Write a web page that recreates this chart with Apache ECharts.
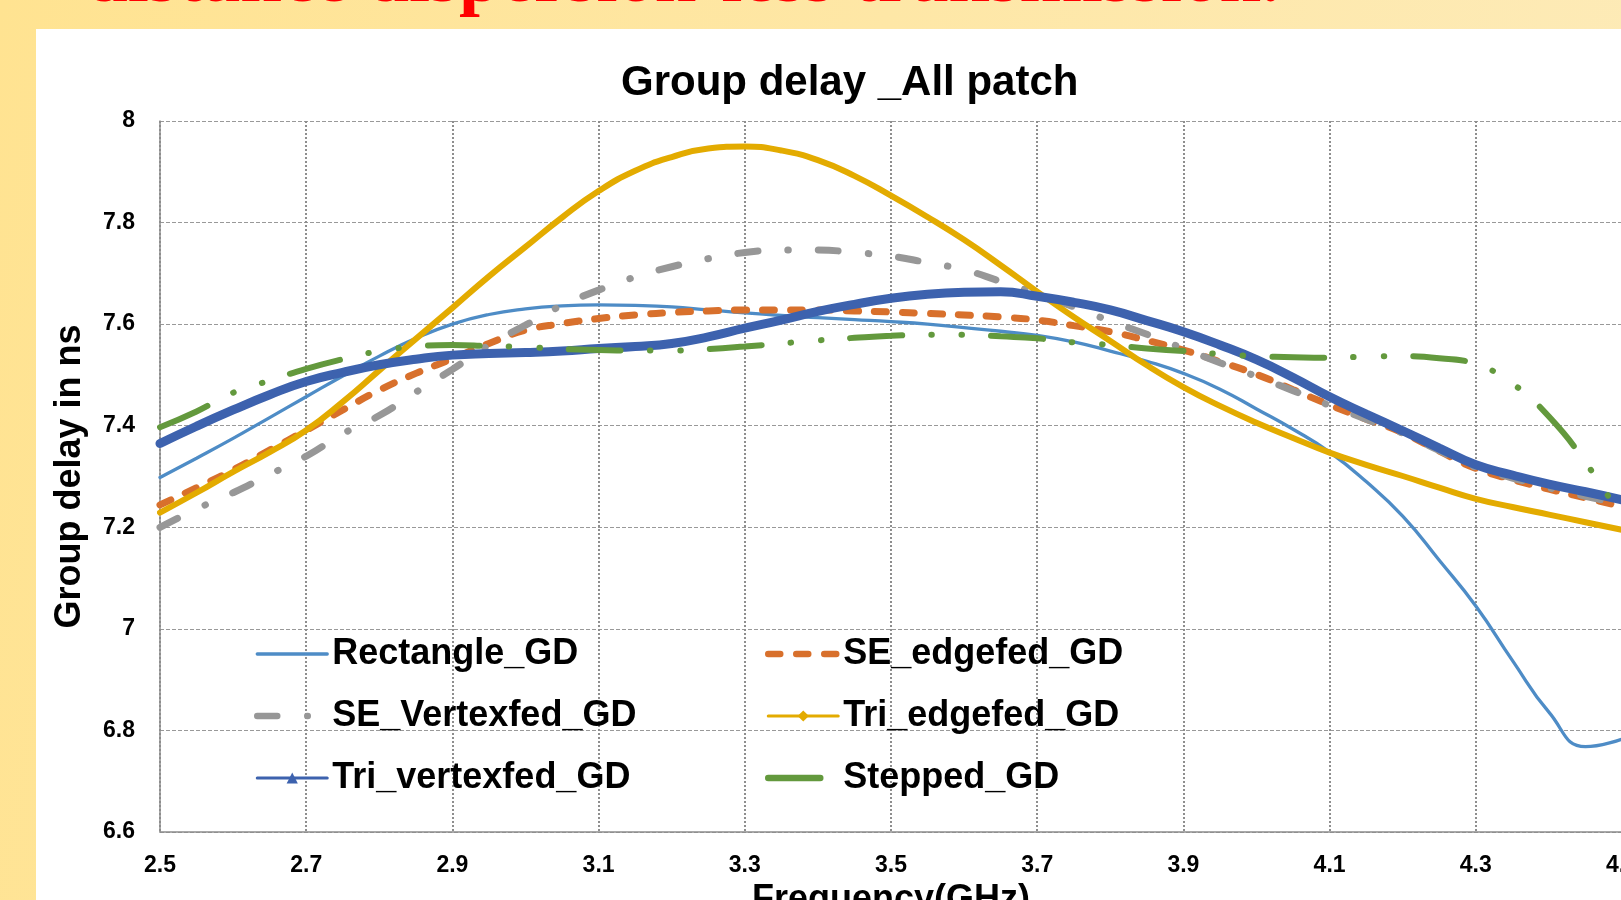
<!DOCTYPE html>
<html>
<head>
<meta charset="utf-8">
<title>Group delay _All patch</title>
<script src="https://cdn.jsdelivr.net/npm/echarts/dist/echarts.min.js"></script>
<style>
  html, body { margin: 0; padding: 0; width: 1621px; height: 900px; overflow: hidden; }
  body { background: linear-gradient(100deg, #ffe391 0%, #fee7a6 50%, #fdebb9 100%); position: relative; }
  .head { position: absolute; left: 86px; top: -62px; font: bold 75px/75px "Liberation Serif", serif; color: #ff0000; white-space: nowrap; }
  .panel { position: absolute; left: 36px; top: 29px; right: 0; bottom: 0; background: #fff; }
  #chart { position: absolute; left: 0; top: 0; width: 1621px; height: 900px; }
</style>
</head>
<body>
<div class="head">distance dispersion-less transmission.</div>
<div class="panel"></div>
<div id="chart"></div>
<script>
// frequency points (GHz), 2.5 .. 4.5 every 0.05
const freq = [2.5, 2.55, 2.6, 2.65, 2.7, 2.75, 2.8, 2.85, 2.9, 2.95,
              3.0, 3.05, 3.1, 3.15, 3.2, 3.25, 3.3, 3.35, 3.4, 3.45,
              3.5, 3.55, 3.6, 3.65, 3.7, 3.75, 3.8, 3.85, 3.9, 3.95,
              4.0, 4.05, 4.1, 4.15, 4.2, 4.25, 4.3, 4.35, 4.4, 4.45, 4.5];

// group delay in ns
const rectangleGD = [7.298, 7.336, 7.375, 7.416, 7.457, 7.498, 7.537, 7.572, 7.600, 7.619,
                     7.630, 7.636, 7.638, 7.637, 7.634, 7.628, 7.622, 7.617, 7.613, 7.609,
                     7.605, 7.600, 7.593, 7.586, 7.578, 7.565, 7.547, 7.527, 7.503, 7.472,
                     7.433, 7.393, 7.348, 7.290, 7.222, 7.135, 7.045, 6.938, 6.836, 6.768, 6.783];
const seEdgefedGD = [7.244, 7.278, 7.313, 7.352, 7.391, 7.431, 7.470, 7.503, 7.532, 7.562,
                     7.588, 7.601, 7.611, 7.618, 7.623, 7.626, 7.628, 7.628, 7.628, 7.626,
                     7.624, 7.621, 7.618, 7.614, 7.608, 7.597, 7.585, 7.568, 7.549, 7.526,
                     7.501, 7.471, 7.441, 7.413, 7.386, 7.350, 7.316, 7.294, 7.275, 7.258, 7.241];
const seVertexfedGD = [7.200, 7.236, 7.268, 7.304, 7.340, 7.384, 7.420, 7.466, 7.511, 7.559,
                       7.598, 7.637, 7.667, 7.693, 7.713, 7.729, 7.741, 7.746, 7.746, 7.741,
                       7.734, 7.721, 7.707, 7.684, 7.660, 7.634, 7.606, 7.580, 7.552, 7.524,
                       7.497, 7.469, 7.440, 7.413, 7.385, 7.351, 7.318, 7.297, 7.278, 7.261, 7.245];
const triEdgefedGD = [7.229, 7.268, 7.309, 7.348, 7.391, 7.447, 7.509, 7.571, 7.632, 7.694,
                      7.752, 7.810, 7.862, 7.902, 7.929, 7.946, 7.950, 7.942, 7.923, 7.892,
                      7.853, 7.811, 7.766, 7.716, 7.664, 7.614, 7.567, 7.519, 7.476, 7.439,
                      7.406, 7.376, 7.347, 7.323, 7.301, 7.278, 7.256, 7.240, 7.225, 7.210, 7.195];
const triVertexfedGD = [7.365, 7.399, 7.431, 7.461, 7.487, 7.505, 7.520, 7.531, 7.539, 7.542,
                        7.544, 7.547, 7.552, 7.556, 7.562, 7.575, 7.592, 7.608, 7.625, 7.639,
                        7.651, 7.659, 7.663, 7.664, 7.655, 7.643, 7.628, 7.607, 7.585, 7.559,
                        7.530, 7.495, 7.457, 7.423, 7.390, 7.356, 7.323, 7.303, 7.285, 7.270, 7.254];
const steppedGD = [7.397, 7.428, 7.465, 7.489, 7.512, 7.531, 7.547, 7.556, 7.559, 7.557,
                   7.555, 7.551, 7.549, 7.548, 7.548, 7.551, 7.556, 7.562, 7.568, 7.573,
                   7.577, 7.579, 7.579, 7.576, 7.572, 7.564, 7.559, 7.552, 7.547, 7.541,
                   7.537, 7.535, 7.534, 7.536, 7.537, 7.533, 7.521, 7.483, 7.418, 7.328, 7.218];

const names = ['Rectangle_GD', 'SE_edgefed_GD', 'SE_Vertexfed_GD', 'Tri_edgefed_GD', 'Tri_vertexfed_GD', 'Stepped_GD'];
const colors = ['#4e8cc6', '#d8702c', '#979797', '#e3ab00', '#3d62ae', '#63993d'];
const widths = [3.3, 7, 7, 6, 9, 6];
const legendWidths = [3.3, 6.5, 6.5, 3, 3, 6.5];
const dashes = ['solid', [12, 16], [20, 30, 0.5, 30], 'solid', 'solid', [52, 29, 0.5, 30, 0.5, 29]];

const font = '"Liberation Sans", Arial, sans-serif';
const pairs = (vals) => freq.map((f, i) => [f, vals[i]]);

function line(i, vals, extra) {
  return Object.assign({
    name: names[i],
    type: 'line',
    data: pairs(vals),
    smooth: 0.5,
    symbol: 'none',
    showSymbol: false,
    color: colors[i],
    lineStyle: { color: colors[i], width: widths[i], type: dashes[i], cap: 'round' }
  }, extra || {});
}

// legend entry: line sample in the series style, marker only where Excel had one
function legendItem(i, marker) {
  return {
    name: names[i],
    itemStyle: marker ? { color: colors[i], opacity: 1 } : { opacity: 0 },
    lineStyle: { color: colors[i], width: legendWidths[i], type: dashes[i], cap: 'round' }
  };
}

const legendText = { fontFamily: font, fontWeight: 'bold', fontSize: 36, color: '#000' };

const chart = echarts.init(document.getElementById('chart'));
chart.setOption({
  backgroundColor: 'transparent',
  animation: false,
  title: {
    text: 'Group delay _All patch',
    left: 621,
    top: 62,
    padding: 0,
    textStyle: { fontFamily: font, fontWeight: 'bold', fontSize: 42, color: '#000' }
  },
  grid: { left: 160, top: 121, width: 1462, height: 711, containLabel: false, outerBoundsMode: 'none' },
  legend: [
    {
      orient: 'vertical', left: 254, top: 636, padding: 0, itemGap: 26, itemWidth: 70, itemHeight: 14,
      data: [legendItem(0), legendItem(2), legendItem(4, true)],
      textStyle: legendText
    },
    {
      orient: 'vertical', left: 765, top: 636, padding: 0, itemGap: 26, itemWidth: 70, itemHeight: 14,
      data: [legendItem(1), legendItem(3, true), legendItem(5)],
      textStyle: legendText
    }
  ],
  xAxis: {
    type: 'value', min: 2.5, max: 4.5, interval: 0.2,
    name: 'Frequency(GHz)', nameLocation: 'middle', nameGap: 45,
    nameTextStyle: { fontFamily: font, fontWeight: 'bold', fontSize: 36, color: '#000' },
    axisLine: { lineStyle: { color: '#8c8c8c', width: 1.5 } },
    axisTick: { show: false },
    axisLabel: {
      margin: 22, color: '#000', fontFamily: font, fontWeight: 'bold', fontSize: 23,
      formatter: (v) => v.toFixed(1)
    },
    splitLine: { show: true, lineStyle: { color: '#8e8e8e', width: 2, type: [2, 2] } }
  },
  yAxis: {
    type: 'value', min: 6.6, max: 8, interval: 0.2,
    name: 'Group delay in ns', nameLocation: 'middle', nameGap: 72,
    nameTextStyle: { fontFamily: font, fontWeight: 'bold', fontSize: 36, color: '#000' },
    axisLine: { show: true, lineStyle: { color: '#8c8c8c', width: 1.5 } },
    axisTick: { show: false },
    axisLabel: {
      margin: 25, color: '#000', fontFamily: font, fontWeight: 'bold', fontSize: 23,
      formatter: (v) => String(Math.round(v * 10) / 10)
    },
    splitLine: { show: true, lineStyle: { color: '#999', width: 1, type: [4, 2] } }
  },
  series: [
    line(0, rectangleGD),
    line(1, seEdgefedGD),
    line(2, seVertexfedGD),
    line(3, triEdgefedGD, { symbol: 'diamond', symbolSize: 8 }),
    line(4, triVertexfedGD, { symbol: 'triangle', symbolSize: 12 }),
    line(5, steppedGD)
  ]
});
</script>
</body>
</html>
